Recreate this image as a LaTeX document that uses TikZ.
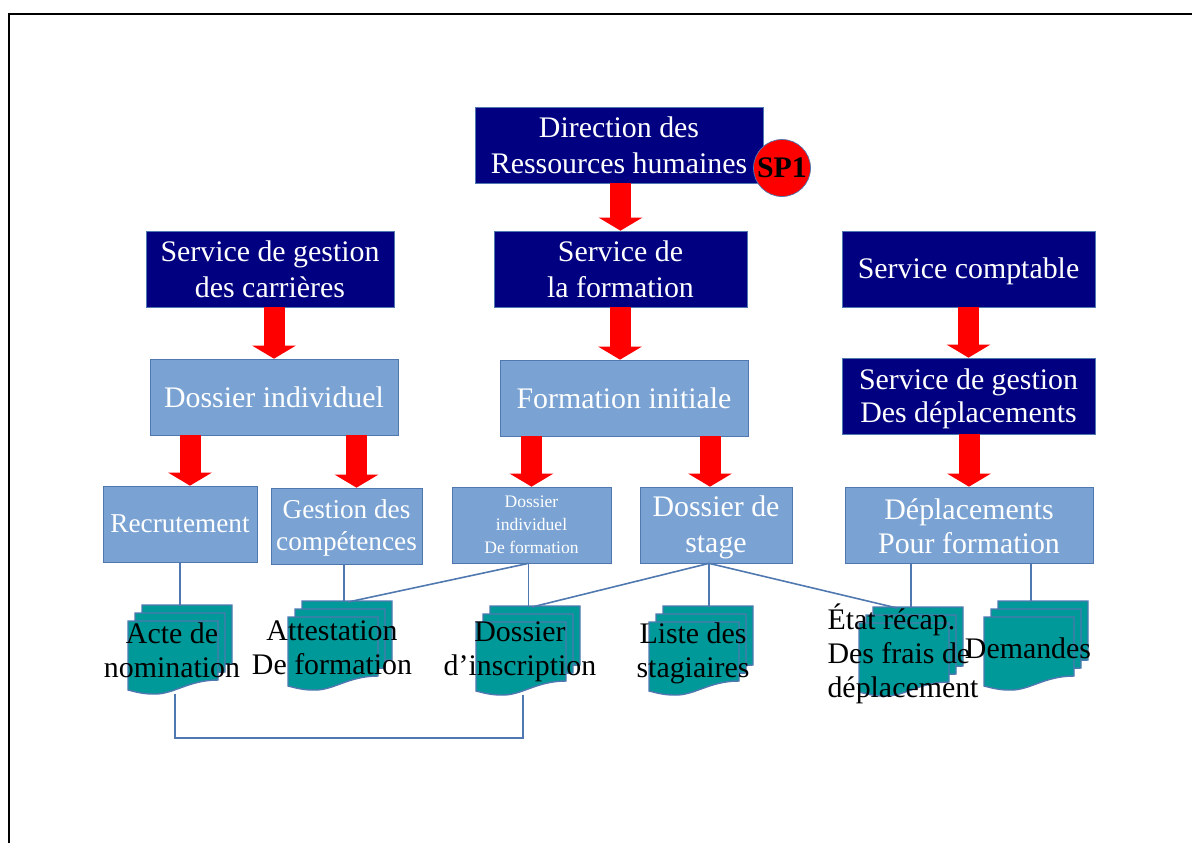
\documentclass[tikz,border=0pt]{standalone}
\usepackage{fontspec}
\setmainfont{Liberation Serif}
\usetikzlibrary{arrows.meta}
\definecolor{navybox}{HTML}{000080}
\definecolor{lightbox}{HTML}{7AA3D3}
\definecolor{edgeblue}{HTML}{4F78B0}
\definecolor{docteal}{HTML}{009999}
\newcommand{\lowerfirst}[1]{\rule{0pt}{#1}}
\tikzset{
  darkbox/.style={rectangle,draw=edgeblue,fill=navybox,text=white,align=center,inner sep=0pt,minimum height=1.52cm,font=\fontsize{17}{20.5}\selectfont},
  bluebox/.style={rectangle,draw=edgeblue,fill=lightbox,text=white,align=center,inner sep=0pt,minimum height=1.52cm,font=\fontsize{17}{20.5}\selectfont},
  redarrow/.style={draw=red,line width=0.42cm,-{Triangle[length=0.26cm,width=0.86cm,fill=red]}},
  thinline/.style={draw=edgeblue,line width=0.9pt},
  doclabel/.style={text=black,align=center,inner sep=0pt,font=\fontsize{17}{19.5}\selectfont},
  docsheet/.style={draw=edgeblue,fill=docteal,line width=0.8pt},
  docstack/.pic={
    \coordinate (-top) at (47,-15); \coordinate (-bottom) at (47,73);
    \foreach \d in {2,1,0} { \draw[docsheet,shift={(7*\d,-8*\d)}] (0,0) -- (90,0) -- (90,59) .. controls (60,59) and (45,74) .. (25,73) .. controls (15,73) and (8,71) .. (0,69) -- cycle; }
  }
}
\begin{document}
\begin{tikzpicture}[x=0.02cm,y=-0.02cm]
\useasboundingbox (0,0) rectangle (1192,843);
\draw [black,line width=1pt] (9,843) -- (9,14) -- (1192,14);
\node[darkbox,minimum width=5.76cm] (direction) at (619,145) {Direction des\\Ressources humaines};
\node[darkbox,minimum width=4.96cm] (carrieres) at (270,269) {Service de gestion\\des carrières};
\node[darkbox,minimum width=5.06cm] (formation) at (620.5,269) {Service de\\la formation};
\node[darkbox,minimum width=5.06cm,text height=0.52cm] (comptable) at (968.5,269) {Service comptable};
\node[bluebox,minimum width=4.96cm] (individuel) at (274,397) {Dossier individuel};
\node[bluebox,minimum width=4.96cm] (initiale) at (624,398) {Formation initiale};
\node[darkbox,minimum width=5.06cm,font=\fontsize{17}{19}\selectfont] (gestiondep) at (968.5,396) {\lowerfirst{0.52cm}Service de gestion\\Des déplacements};
\node[bluebox,minimum width=3.08cm,font=\fontsize{15.5}{19}\selectfont] (recrutement) at (180,524) {Recrutement};
\node[bluebox,minimum width=3.02cm,font=\fontsize{15.5}{18.5}\selectfont] (competences) at (346.5,526) {\lowerfirst{0.45cm}Gestion des\\compétences};
\node[bluebox,minimum width=3.18cm,font=\fontsize{10}{13}\selectfont] (indformation) at (531.5,525) {Dossier\\individuel\\De formation};
\node[bluebox,minimum width=3.04cm] (stage) at (716,525) {\lowerfirst{0.52cm}Dossier de\\stage};
\node[bluebox,minimum width=4.96cm,font=\fontsize{17}{19.5}\selectfont] (pourformation) at (969,525) {\lowerfirst{0.46cm}Déplacements\\Pour formation};
\foreach \from/\to/\dx in {direction/formation/0,carrieres/individuel/0,formation/initiale/-4,comptable/gestiondep/0,gestiondep/pourformation/0,individuel/recrutement/10,individuel/competences/10,initiale/indformation/0,initiale/stage/-6} { \draw[redarrow] ([xshift=\dx*0.02cm]\to.north |- \from.south) -- ([xshift=\dx*0.02cm]\to.north); }
\node[circle,draw=edgeblue,fill=red,text=black,inner sep=0pt,minimum size=1.14cm,font=\fontsize{17}{18}\selectfont\bfseries] (spone) at (782,168) {SP1};
\pic (acte) at (128,621) {docstack};
\pic (attestation) at (288,617) {docstack};
\pic (inscription) at (476,622) {docstack};
\pic (stagiaires) at (649,622) {docstack};
\pic (recap) at (859,623) {docstack};
\pic (demandes) at (984,617) {docstack};
\draw[thinline] (recrutement.south) -- (recrutement.south |- acte-top);
\draw[thinline] ([xshift=-0.05cm]competences.south) -- ([xshift=-0.05cm]competences.south |- attestation-top);
\draw[thinline] ([xshift=-0.06cm]indformation.south) -- ([xshift=-0.06cm]indformation.south |- inscription-top);
\draw[thinline] ([xshift=-0.06cm]indformation.south) -- ([xshift=0.26cm]attestation-top);
\draw[thinline] ([xshift=-0.14cm]stage.south) -- ([xshift=-0.14cm]stage.south |- stagiaires-top);
\draw[thinline] ([xshift=-0.14cm]stage.south) -- ([xshift=0.18cm]inscription-top);
\draw[thinline] ([xshift=-0.14cm]stage.south) -- ([xshift=-0.18cm]recap-top);
\draw[thinline] ([xshift=-1.16cm]pourformation.south) -- ([xshift=-1.16cm]pourformation.south |- recap-top);
\draw[thinline] ([xshift=1.24cm]pourformation.south) -- ([xshift=1.24cm]pourformation.south |- demandes-top);
\draw[thinline] (acte-bottom) -- ++(0,44) -| (inscription-bottom);
\node[doclabel] (actetext) at (172,650) {Acte de\\nomination};
\node[doclabel] (attestationtext) at (332,648) {Attestation\\De formation};
\node[doclabel] (inscriptiontext) at (520,652) {Dossier\\d’inscription};
\node[doclabel] (stagiairestext) at (693,653) {Liste des\\stagiaires};
\node[doclabel,align=left] (recaptext) at (903,654) {État récap.\\Des frais de\\déplacement};
\node[doclabel] (demandestext) at (1028,648) {Demandes};
\end{tikzpicture}
\end{document}
